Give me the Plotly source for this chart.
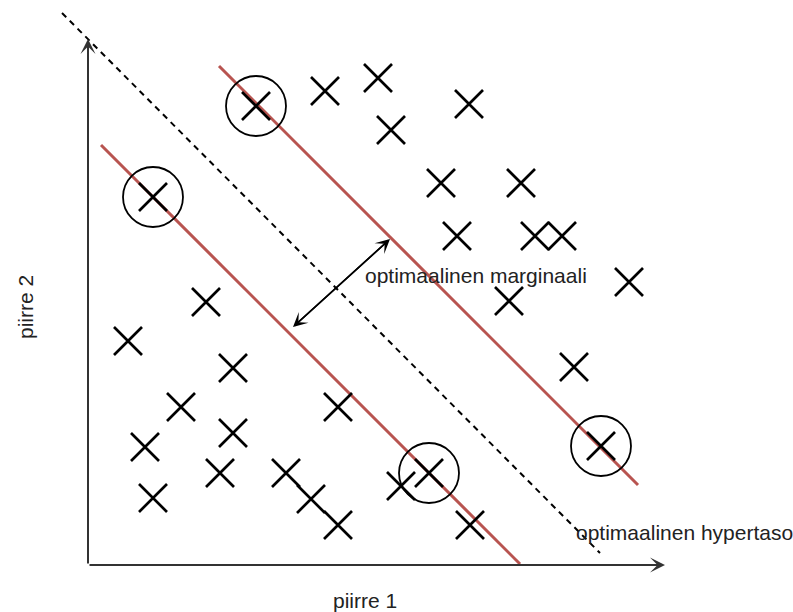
import plotly.graph_objects as go

# Data points (feature 1, feature 2) in chart units
x_pts = [16.8, 23.7, 29.0, 38.1, 30.3, 6.5, 35.3, 43.3, 36.9, 44.7, 47.4, 54.1, 42.1,
         11.8, 4.0, 14.5, 48.6, 9.3, 25.0, 14.5, 5.7, 51.3, 34.1, 13.2, 19.8, 31.3,
         6.5, 22.3, 25.0, 38.2]
y_pts = [45.9, 47.4, 48.7, 46.1, 43.5, 36.8, 38.2, 38.2, 32.9, 32.9, 32.9, 28.3, 26.4,
         26.3, 22.4, 19.7, 19.8, 15.8, 15.8, 13.2, 11.8, 11.9, 9.2, 9.2, 9.2, 7.9,
         6.7, 6.6, 4.0, 4.0]

# Support vectors (circled)
sv_x = [16.8, 6.5, 51.3, 34.1]
sv_y = [45.9, 36.8, 11.9, 9.2]

# Margin lines and hyperplane (endpoints)
upper_x = [13.1, 55.0]
upper_y = [49.9, 8.0]
lower_x = [1.3, 43.2]
lower_y = [42.0, 0.1]
hyper_x = [-2.6, 51.2]
hyper_y = [55.2, 1.2]

# Axis extents and margin arrow
x_axis_end = 57.7
y_axis_end = 52.6
margin_a = (30.2, 32.6)
margin_b = (20.5, 23.8)

RED = "#b85450"
AX = "#333333"
FONT = "Liberation Sans, Arial, Helvetica, sans-serif"
FS = 21

fig = go.Figure()

fig.add_trace(go.Scatter(x=hyper_x, y=hyper_y, mode="lines",
                         line=dict(color="black", width=2, dash="6px,5px")))
fig.add_trace(go.Scatter(x=upper_x, y=upper_y, mode="lines",
                         line=dict(color=RED, width=3)))
fig.add_trace(go.Scatter(x=lower_x, y=lower_y, mode="lines",
                         line=dict(color=RED, width=3)))
fig.add_trace(go.Scatter(x=x_pts, y=y_pts, mode="markers",
                         marker=dict(symbol="x-thin-open", size=28, color="black",
                                     line=dict(color="black", width=2.7))))
fig.add_trace(go.Scatter(x=sv_x, y=sv_y, mode="markers",
                         marker=dict(symbol="circle-open", size=60, color="black",
                                     line=dict(color="black", width=1.8))))

annotations = [
    dict(x=x_axis_end, y=0, ax=0, ay=0, axref="x", ayref="y", xref="x", yref="y",
         text="", showarrow=True, arrowhead=3, arrowsize=1.25, arrowwidth=2, arrowcolor=AX),
    dict(x=0, y=y_axis_end, ax=0, ay=0, axref="x", ayref="y", xref="x", yref="y",
         text="", showarrow=True, arrowhead=3, arrowsize=1.25, arrowwidth=2, arrowcolor=AX),
    dict(x=margin_a[0], y=margin_a[1], ax=margin_b[0], ay=margin_b[1], axref="x", ayref="y",
         xref="x", yref="y", text="", showarrow=True, arrowhead=3, arrowsize=1.5,
         arrowwidth=1.6, arrowcolor="black"),
    dict(x=margin_b[0], y=margin_b[1], ax=margin_a[0], ay=margin_a[1], axref="x", ayref="y",
         xref="x", yref="y", text="", showarrow=True, arrowhead=3, arrowsize=1.5,
         arrowwidth=1.6, arrowcolor="black"),
    dict(x=38.8, y=29.0, xref="x", yref="y", text="optimaalinen marginaali",
         showarrow=False, font=dict(family=FONT, size=FS, color="#222"),
         xanchor="center", yanchor="middle"),
    dict(x=48.6, y=3.3, xref="x", yref="y", text="optimaalinen hypertaso",
         showarrow=False, font=dict(family=FONT, size=FS, color="#222"),
         xanchor="left", yanchor="middle"),
    dict(x=27.7, y=-3.5, xref="x", yref="y", text="piirre 1",
         showarrow=False, font=dict(family=FONT, size=FS, color="#222"),
         xanchor="center", yanchor="middle"),
    dict(x=-6.3, y=25.8, xref="x", yref="y", text="piirre 2", textangle=-90,
         showarrow=False, font=dict(family=FONT, size=FS, color="#222"),
         xanchor="center", yanchor="middle"),
]

fig.update_layout(
    width=793, height=612,
    margin=dict(l=0, r=0, t=0, b=0),
    paper_bgcolor="white", plot_bgcolor="white",
    showlegend=False,
    xaxis=dict(range=[-8.8, 70.5], visible=False, fixedrange=True),
    yaxis=dict(range=[-4.7, 56.5], visible=False, fixedrange=True),
    annotations=annotations,
    hovermode=False,
)

fig.write_html("out.html",
               config={"displayModeBar": False, "staticPlot": True},
               post_script="document.body.style.margin='0';document.body.style.padding='0';document.body.style.overflow='hidden';")
